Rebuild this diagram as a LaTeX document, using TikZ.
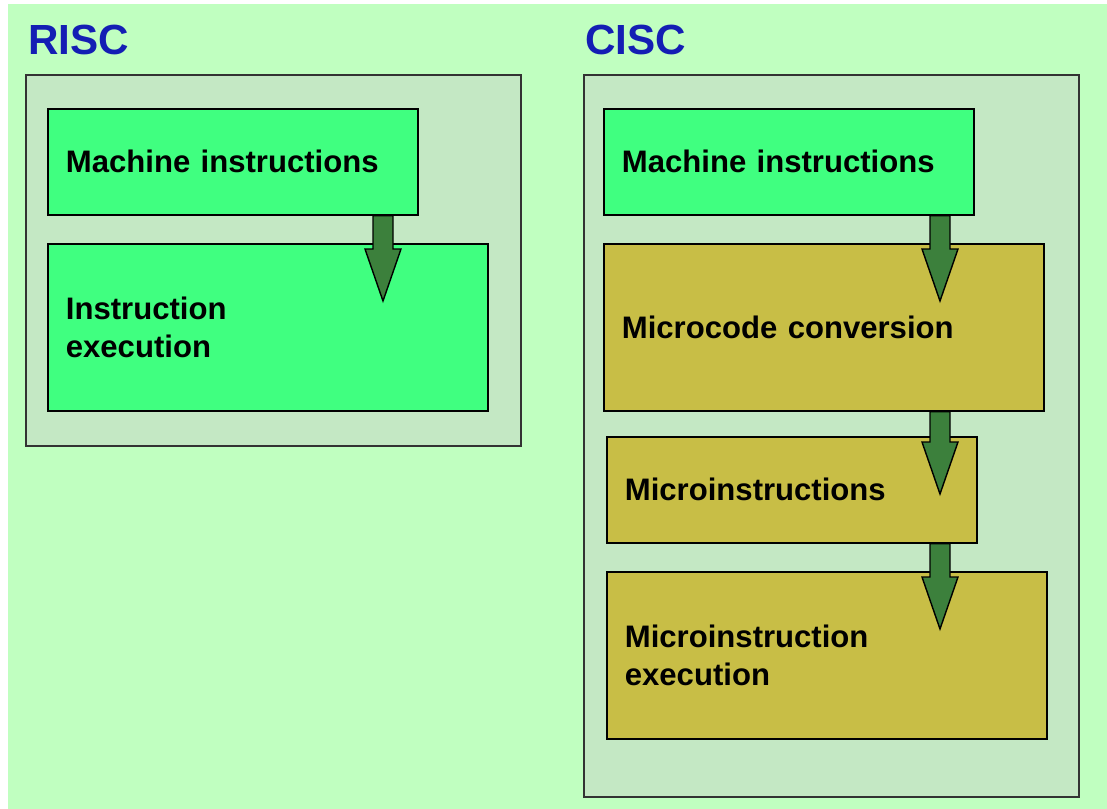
\documentclass[tikz,border=0pt]{standalone}
\usepackage{fontspec}
\setmainfont{Liberation Sans}
\usetikzlibrary{calc,positioning}
\definecolor{bggreen}{RGB}{192,255,192}
\definecolor{framegreen}{RGB}{196,232,196}
\definecolor{boxgreen}{RGB}{64,255,128}
\definecolor{boxolive}{RGB}{200,190,70}
\definecolor{arrowgreen}{RGB}{60,128,60}
\definecolor{titleblue}{RGB}{20,30,180}
\tikzset{
	title/.style={anchor=base west, inner sep=0pt, text=titleblue, font=\fontsize{24}{28}\selectfont\bfseries},
	frame/.style={draw=black!80, line width=1.1pt, fill=framegreen, anchor=north west, inner sep=0pt, minimum width=9.9cm},
	box/.style={draw=black, line width=1pt, anchor=north west, inner xsep=0.36cm, inner ysep=0pt, align=left, font=\fontsize{17.7}{21.5}\selectfont\bfseries},
	green box/.style={fill=boxgreen},
	olive box/.style={fill=boxolive},
	small box/.style={minimum width=7.4cm, text width=6.68cm, minimum height=2.12cm},
	big box/.style={minimum width=8.8cm, text width=8.08cm, minimum height=3.34cm},
	flowarrow/.style={draw=black, line width=0.8pt, fill=arrowgreen, line join=miter}
}
% wide arrow from the bottom of #2 into #3, on column #1
\newcommand\flowarrow[3]{%
	\draw[flowarrow] ($(#1 |- #2.south)+(-10,0)$) -- ($(#1 |- #3.north)+(-10,6)$) -- ++(-8,0)
		-- ($(#1 |- #3.north)+(0,58)$) -- ($(#1 |- #3.north)+(18,6)$) -- ++(-8,0)
		-- ($(#1 |- #2.south)+(10,0)$) -- cycle;}

\begin{document}
\begin{tikzpicture}[x=0.02cm,y=-0.02cm]
	\useasboundingbox (0,0) rectangle (1107,809);
	\fill[white] (0,0) rectangle (1107,809);
	\fill[bggreen] (8,4) rectangle (1107,809);
	% RISC
	\node[title] (risc label) at (28,54) {RISC};
	\node[frame, minimum height=7.42cm] (risc frame) at (25,74) {};
	\node[box, green box, small box] (risc mi) at (47,108) {Machine instructions};
	\node[box, green box, big box] (risc ex) at (47,243) {Instruction\\execution};
	% CISC
	\node[title] (cisc label) at (585,54) {CISC};
	\node[frame, minimum height=14.44cm] (cisc frame) at (583,74) {};
	\node[box, green box, small box] (cisc mi) at (603,108) {Machine instructions};
	\node[box, olive box, big box] (cisc conv) at (603,243) {Microcode conversion};
	\node[box, olive box, small box] (cisc micro) at (606,436) {Microinstructions};
	\node[box, olive box, big box] (cisc exec) at (606,571) {Microinstruction\\execution};
	% arrows
	\coordinate (risc col) at (383,0);
	\coordinate (cisc col) at (940,0);
	\flowarrow{risc col}{risc mi}{risc ex}
	\flowarrow{cisc col}{cisc mi}{cisc conv}
	\flowarrow{cisc col}{cisc conv}{cisc micro}
	\flowarrow{cisc col}{cisc micro}{cisc exec}
\end{tikzpicture}
\end{document}
